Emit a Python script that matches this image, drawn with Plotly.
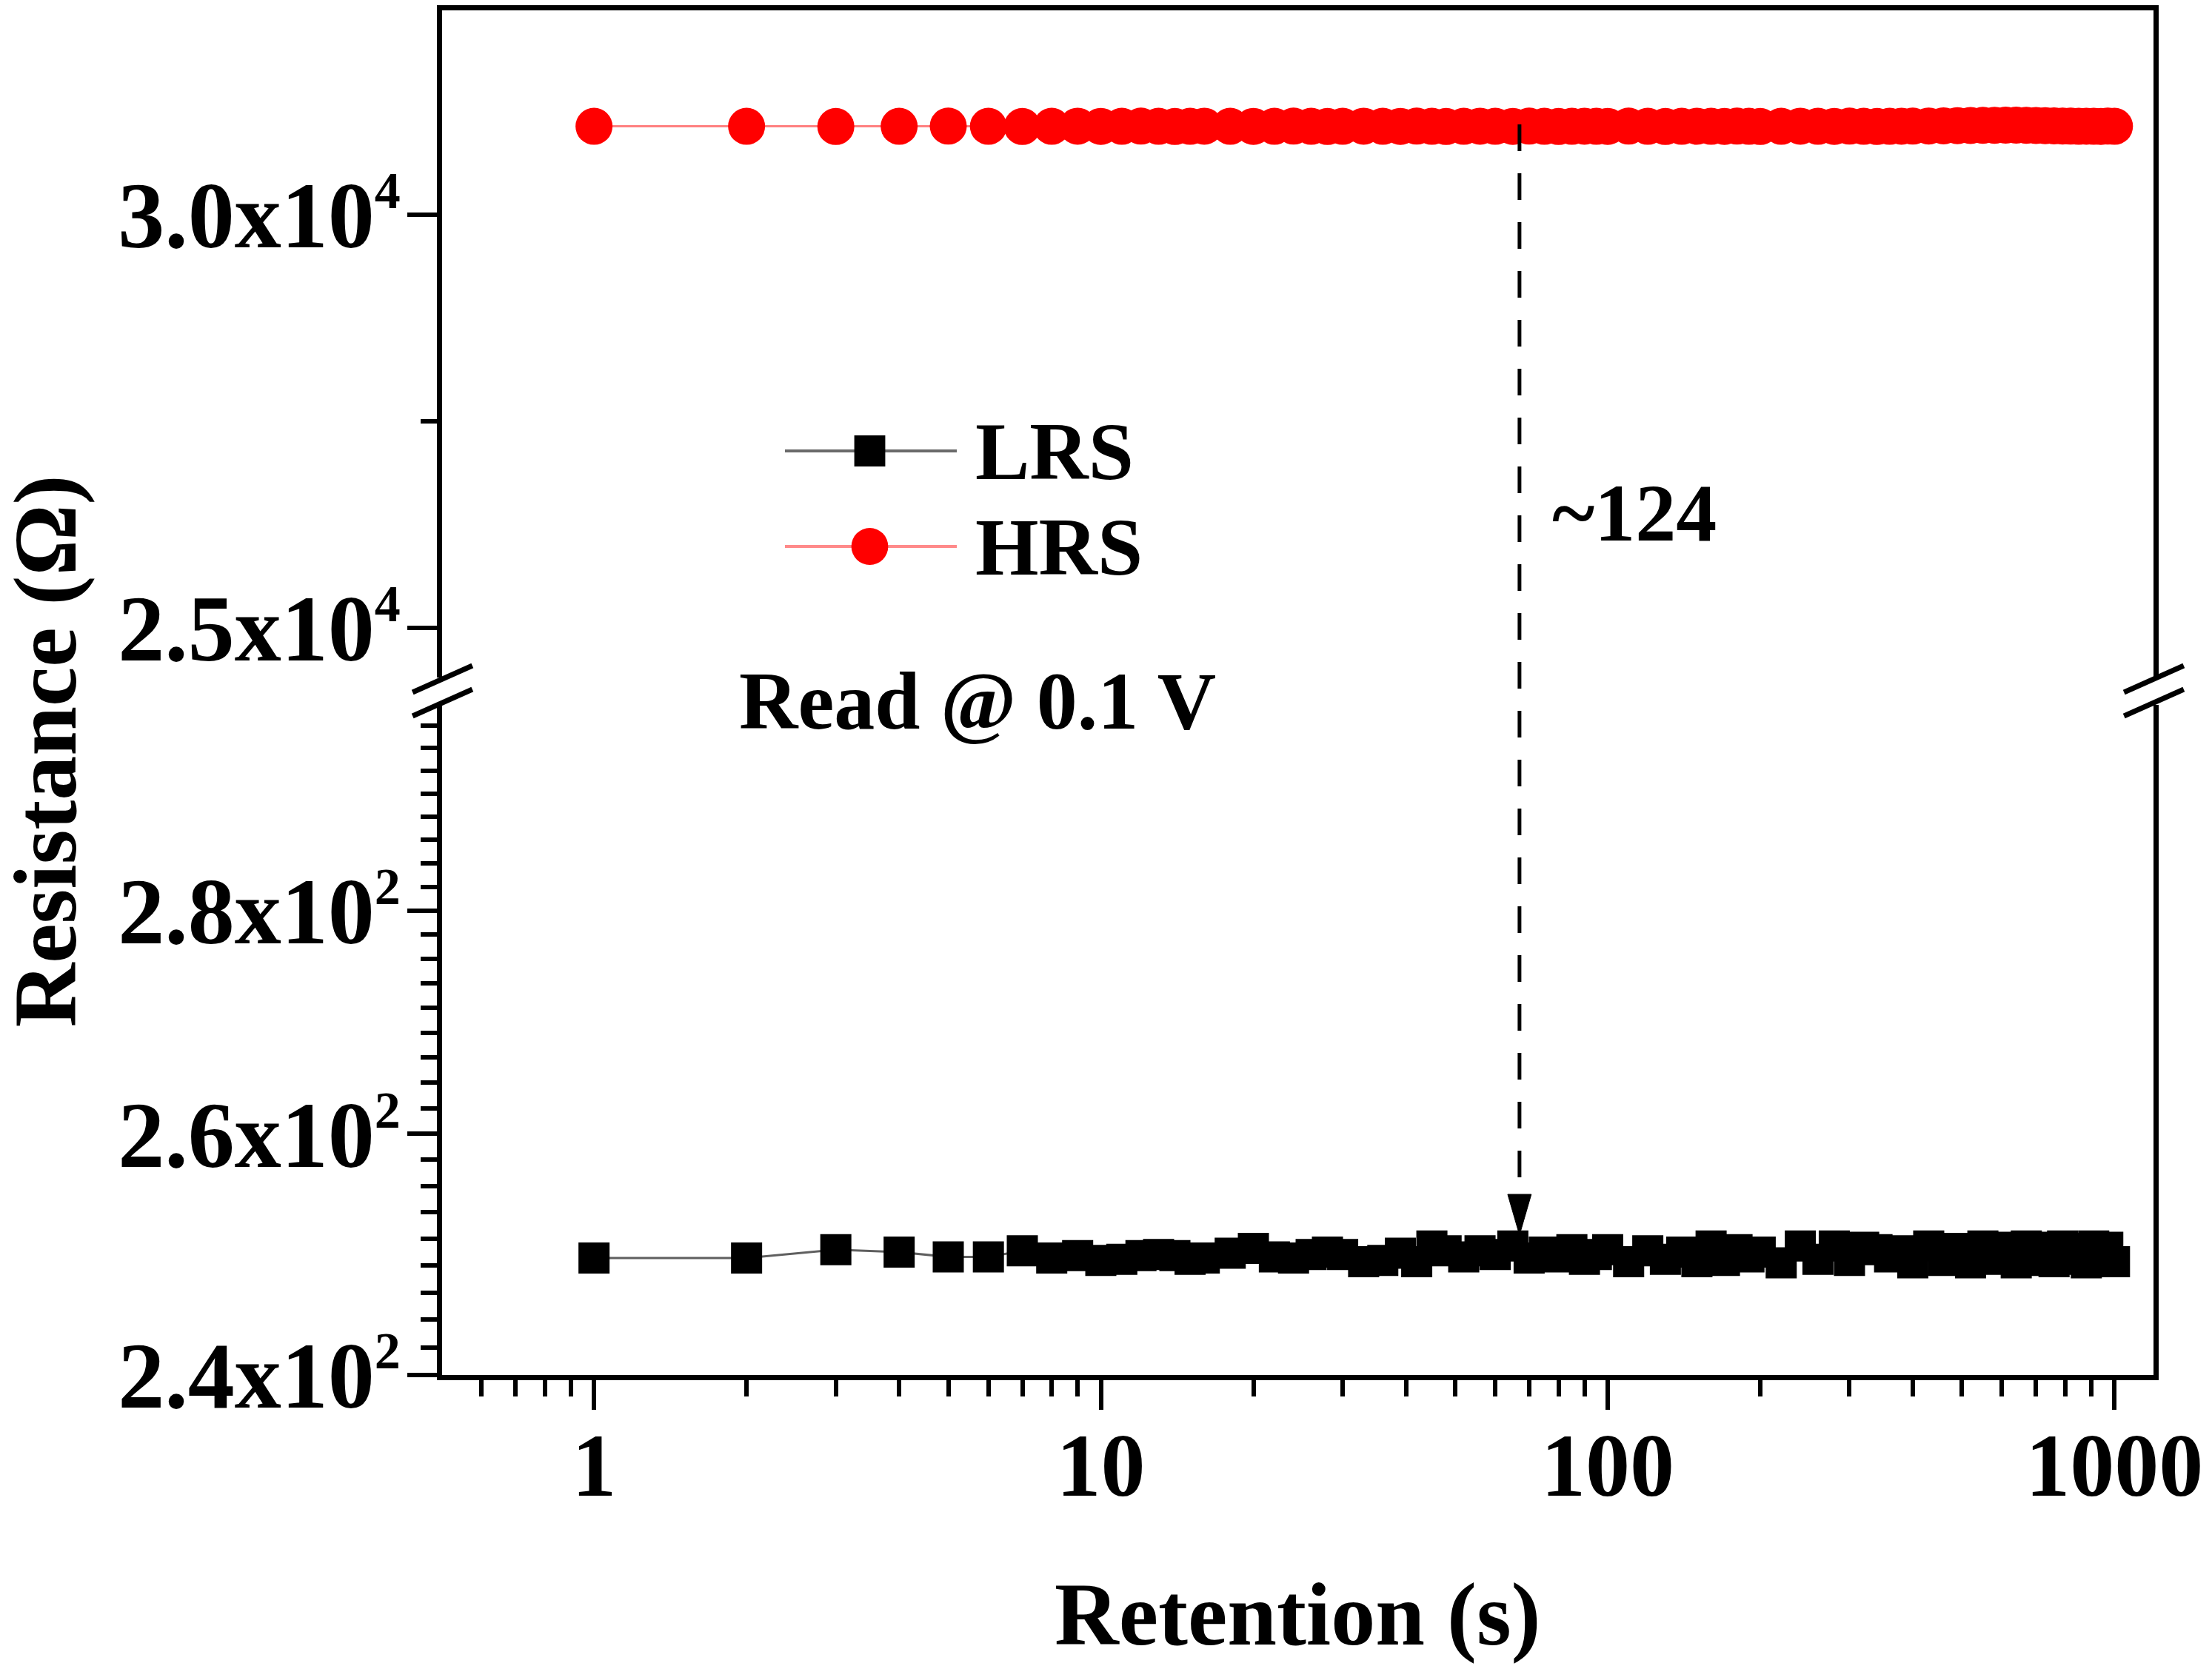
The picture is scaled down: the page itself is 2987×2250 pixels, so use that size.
import math
import plotly.graph_objects as go

# Retention test, read at 0.1 V
time_s = [1, 2, 3, 4, 5, 6, 7, 8, 9, 10,
          11, 12, 13, 14, 15, 16, 18, 20, 22, 24,
          26, 28, 30, 33, 36, 39, 42, 45, 48, 52,
          56, 60, 65, 70, 75, 80, 85, 90, 95, 100,
          110, 120, 130, 140, 150, 160, 170, 180, 190, 200,
          220, 240, 260, 280, 300, 320, 340, 360, 380, 400,
          430, 460, 490, 520, 550, 580, 610, 640, 670, 700,
          730, 760, 790, 820, 850, 880, 910, 940, 970, 1000]

lrs_ohm = [249.5, 249.5, 250.2, 250.0, 249.6, 249.6, 250.1, 249.5, 249.7, 249.3,
           249.4, 249.7, 249.8, 249.7, 249.4, 249.5, 249.9, 250.3, 249.6, 249.5,
           249.8, 250.0, 249.8, 249.2, 249.3, 249.9, 249.2, 250.5, 250.1, 249.6,
           250.1, 249.8, 250.5, 249.5, 250.0, 249.6, 250.2, 249.4, 249.8, 250.2,
           249.2, 250.1, 249.4, 250.0, 249.2, 250.5, 249.3, 250.2, 249.6, 250.0,
           249.1, 250.5, 249.4, 250.5, 249.3, 250.4, 250.2, 249.6, 250.1, 249.1,
           250.5, 249.3, 250.3, 249.1, 250.5, 249.4, 250.4, 249.1, 250.5, 249.3,
           250.4, 249.2, 250.5, 249.4, 250.3, 249.1, 250.5, 249.3, 250.4, 249.2]

hrs_ohm = [31070, 31070, 31068, 31070, 31072, 31070, 31068, 31070, 31071, 31069,
           31070, 31072, 31070, 31068, 31070, 31071, 31070, 31069, 31070, 31072,
           31070, 31068, 31070, 31071, 31070, 31069, 31072, 31070, 31068, 31070,
           31071, 31070, 31069, 31072, 31070, 31068, 31070, 31071, 31070, 31069,
           31072, 31070, 31068, 31070, 31071, 31070, 31069, 31072, 31070, 31068,
           31070, 31071, 31070, 31069, 31072, 31070, 31068, 31070, 31071, 31072,
           31074, 31076, 31078, 31080, 31082, 31083, 31084, 31084, 31082, 31080,
           31078, 31076, 31074, 31072, 31070, 31071, 31070, 31069, 31072, 31070]

x_ticks = [1, 10, 100, 1000]
x_minor = [0.5, 0.6, 0.7, 0.8, 0.9, 2, 3, 4, 5, 6, 7, 8, 9,
           20, 30, 40, 50, 60, 70, 80, 90, 200, 300, 400, 500, 600, 700, 800, 900]
lrs_ticks = [240, 260, 280]
lrs_labels = ["2.4x10", "2.6x10", "2.8x10"]
hrs_ticks = [25000, 30000]
hrs_labels = ["2.5x10", "3.0x10"]
hrs_minor = [27500]

ARROW_T = 67  # where the ~124 arrow sits on the time axis

# geometry of the frame, in pixels of the 2987 x 2250 page
W, H = 2987, 2250
L, R, T, B = 597, 2918, 14, 1857
TOP_LOW, BOT_HIGH = 915, 952

X_RANGE = [math.log10(0.5015), math.log10(1194)]
LRS_RANGE = [math.log10(240), math.log10(299.8)]
HRS_RANGE = [24400, 32473]

FONT = "Liberation Serif"


def px(x):
    return (x - L) / (R - L)


def py(y):
    return (B - y) / (B - T)


def t_to_paper(t):
    return (math.log10(t) - X_RANGE[0]) / (X_RANGE[1] - X_RANGE[0])


def sci_label(mantissa, power):
    return f'{mantissa}<sup><span style="font-size:70px">{power}</span></sup>'


# minor ticks of the lower part: nine steps between major ticks
lrs_minor = [240 + k * 20 / 9 for k in range(1, 28) if k % 9 != 0]

fig = go.Figure()

fig.add_trace(go.Scatter(x=time_s, y=lrs_ohm, xaxis="x", yaxis="y", name="LRS",
                         mode="lines+markers",
                         line=dict(color="#5f5f5f", width=3),
                         marker=dict(symbol="square", size=42, color="black")))
fig.add_trace(go.Scatter(x=time_s, y=hrs_ohm, xaxis="x2", yaxis="y2", name="HRS",
                         mode="lines+markers",
                         line=dict(color="#ff8080", width=3),
                         marker=dict(symbol="circle", size=50, color="#ff0000")))

x_tick_font = dict(family=FONT, size=120, color="black", weight="bold")
y_tick_font = dict(family=FONT, size=126, color="black", weight="bold")
axis_common = dict(showline=True, linewidth=7, linecolor="black", showgrid=False,
                   zeroline=False, tickcolor="black", tickwidth=6)
minor_common = dict(ticks="outside", ticklen=22, tickwidth=6, tickcolor="black")

fig.update_layout(
    width=W, height=H,
    margin=dict(l=L, r=W - R, t=T, b=H - B, pad=0),
    paper_bgcolor="white", plot_bgcolor="white",
    showlegend=False,
    xaxis=dict(type="log", range=X_RANGE, domain=[0, 1], anchor="y",
               ticks="outside", ticklen=40, tickvals=x_ticks,
               ticktext=[str(v) for v in x_ticks], tickfont=x_tick_font,
               ticklabelstandoff=-28,
               minor=dict(tickvals=x_minor, **minor_common),
               **axis_common),
    xaxis2=dict(type="log", range=X_RANGE, domain=[0, 1], anchor="y2", side="top",
                matches="x", ticks="", showticklabels=False, **axis_common),
    yaxis=dict(type="log", range=LRS_RANGE, domain=[0, py(BOT_HIGH)], anchor="x",
               mirror=True, ticks="outside", ticklen=40,
               tickvals=lrs_ticks, ticktext=[sci_label(m, 2) for m in lrs_labels],
               tickfont=y_tick_font, ticklabelstandoff=-16,
               minor=dict(tickvals=lrs_minor, **minor_common),
               **axis_common),
    yaxis2=dict(range=HRS_RANGE, domain=[py(TOP_LOW), 1], anchor="x2",
                mirror=True, ticks="outside", ticklen=40,
                tickvals=hrs_ticks, ticktext=[sci_label(m, 4) for m in hrs_labels],
                tickfont=y_tick_font, ticklabelstandoff=-16,
                minor=dict(tickvals=hrs_minor, **minor_common),
                **axis_common),
)

shapes = []

# axis break marks on both sides
for x_mid in (L, R):
    for y_mid in (917, 949):
        shapes.append(dict(type="line", xref="paper", yref="paper",
                           x0=px(x_mid - 40), y0=py(y_mid + 18),
                           x1=px(x_mid + 41), y1=py(y_mid - 18),
                           line=dict(color="black", width=7)))

# dashed arrow between the two states
ax = t_to_paper(ARROW_T)
shapes.append(dict(type="line", xref="paper", yref="paper",
                   x0=ax, y0=py(168), x1=ax, y1=py(1620),
                   line=dict(color="black", width=5, dash="36px,30px")))
dx = 16 / (R - L)
shapes.append(dict(type="path", xref="paper", yref="paper",
                   path=f"M {ax - dx},{py(1613)} L {ax + dx},{py(1613)} L {ax},{py(1668)} Z",
                   fillcolor="black", line=dict(color="black", width=1)))

# hand drawn legend
shapes.append(dict(type="line", xref="paper", yref="paper",
                   x0=px(1062), y0=py(609), x1=px(1295), y1=py(609),
                   line=dict(color="#6a6a6a", width=4)))
shapes.append(dict(type="rect", xref="paper", yref="paper",
                   x0=px(1156), y0=py(630), x1=px(1198), y1=py(588),
                   fillcolor="black", line=dict(width=0)))
shapes.append(dict(type="line", xref="paper", yref="paper",
                   x0=px(1062), y0=py(738), x1=px(1295), y1=py(738),
                   line=dict(color="#ff8a8a", width=4)))
shapes.append(dict(type="circle", xref="paper", yref="paper",
                   x0=px(1152), y0=py(763), x1=px(1202), y1=py(713),
                   fillcolor="#ff0000", line=dict(width=0)))

fig.update_layout(shapes=shapes)

text_font = dict(family=FONT, size=110, color="black", weight="bold")
title_font = dict(family=FONT, size=120, color="black", weight="bold")

annotations = [
    dict(text="LRS", x=px(1318), y=py(610), xanchor="left", yanchor="middle", font=text_font),
    dict(text="HRS", x=px(1318), y=py(739), xanchor="left", yanchor="middle", font=text_font),
    dict(text="Read @ 0.1 V", x=px(998), y=py(947), xanchor="left", yanchor="middle", font=text_font),
    dict(text="~124", x=px(2100), y=py(693), xanchor="left", yanchor="middle", font=text_font),
    dict(text="Retention (s)", x=0.5, y=py(2180), xanchor="center", yanchor="middle", font=title_font),
    dict(text="Resistance (Ω)", x=px(60), y=py(1014), xanchor="center", yanchor="middle",
         textangle=-90, font=title_font),
]
for a in annotations:
    a.update(xref="paper", yref="paper", showarrow=False)
fig.update_layout(annotations=annotations)

fig.write_html("out.html", config={"displayModeBar": False},
               post_script="document.body.style.margin='0';")
